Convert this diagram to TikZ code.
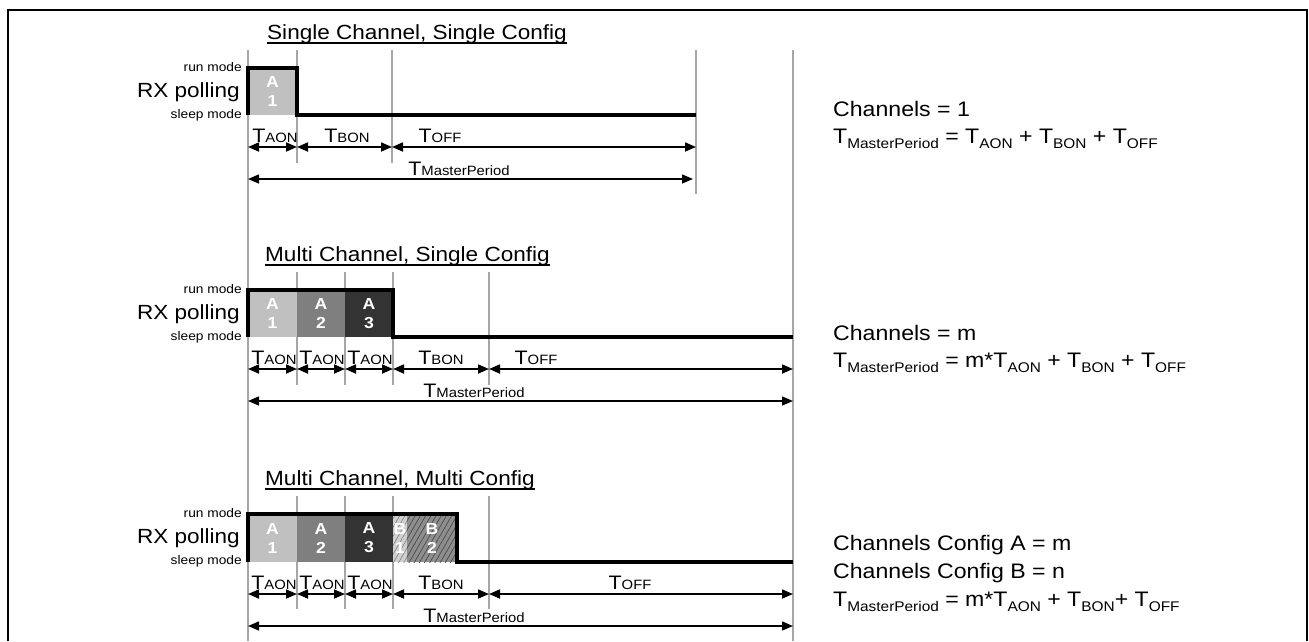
\documentclass[tikz,border=0pt]{standalone}
\usepackage{fontspec}
\setmainfont{Liberation Sans}[FakeStretch=1.1]
\usetikzlibrary{arrows.meta,patterns.meta}
\definecolor{gA}{HTML}{C0C0C0}
\definecolor{gB}{HTML}{7F7F7F}
\definecolor{gC}{HTML}{333333}
\definecolor{vl}{HTML}{A6A6A6}
\definecolor{hBa}{HTML}{D0D0D0}
\definecolor{hBb}{HTML}{8E8E8E}
\definecolor{hLa}{HTML}{8A8A8A}
\definecolor{hLb}{HTML}{4A4A4A}
\newcommand\tlab[2]{{\fontsize{19.5}{19.5}\selectfont #1}{\fontsize{13.5}{13.5}\selectfont #2}}
\newcommand\fsb[1]{\raisebox{-5.5pt}{\fontsize{14}{14}\selectfont #1}}
\newcommand\Tf[1]{T\fsb{#1}}
\begin{document}
\begin{tikzpicture}[x=1pt,y=-1pt,
  vline/.style={draw=vl,line width=1.4pt},
  sig/.style={line width=4.5pt,line join=miter},
  dim/.style={{Triangle[length=11pt,width=9pt]}-{Triangle[length=11pt,width=9pt]},line width=1.7pt},
  mdim/.style={dim,line width=1.4pt},
  blk/.style={text=white,font=\bfseries\fontsize{16}{19}\selectfont,align=center,inner sep=0},
  lab/.style={anchor=base,inner sep=0},
  ttl/.style={anchor=base west,inner sep=0,font=\fontsize{20.5}{24}\selectfont},
  side/.style={anchor=base east,inner sep=0,font=\fontsize{12.5}{14}\selectfont},
  rxp/.style={anchor=base east,inner sep=0,font=\fontsize{20.5}{24}\selectfont},
  rt/.style={anchor=base west,inner sep=0,font=\fontsize{21}{24}\selectfont},
  uline/.style={line width=1.3pt}]
\useasboundingbox (0,0) rectangle (1309,641);
\draw[line width=2pt] (8,641) -- (8,10) -- (1307,10) -- (1307,641);
% long vertical guides
\draw[vline] (248,50) -- (248,641);
\draw[vline] (793,50) -- (793,641);

% ===== Section 1 =====
\node[ttl] (t1) at (267,39) {Single Channel, Single Config};
\draw[uline] ([yshift=-4pt]t1.base west) -- ([yshift=-4pt]t1.base east);
\draw[vline] (297,50) -- (297,163);
\draw[vline] (392,50) -- (392,163);
\draw[vline] (696,50) -- (696,194);
\fill[gA] (248,68) rectangle (297,115);
\node[blk] (a11) at (272.5,91.5) {A\\1};
\draw[sig] (248,115) -- (248,68) -- (297,68) -- (297,115) -- (696,115);
\node[side] (rm1) at (242,71.5) {run mode};
\node[rxp] (rx1) at (240,97) {RX polling};
\node[side] (sm1) at (242,118.5) {sleep mode};
\foreach \n/\x in {a/248,b/297,c/392,d/696}{
  \coordinate (p1\n) at (\x,147);
  \coordinate (m1\n) at (\x,179);}
\coordinate (m1e) at (693,179);
\node[lab] (l1a) at (275,142) {\tlab{T}{AON}};
\node[lab] (l1b) at (347,142) {\tlab{T}{BON}};
\node[lab] (l1c) at (440,142) {\tlab{T}{OFF}};
\node[lab] (l1m) at (459,175.5) {\tlab{T}{MasterPeriod}};
\draw[dim] (p1a) -- (p1b);
\draw[dim] (p1b) -- (p1c);
\draw[dim] (p1c) -- (p1d);
\draw[mdim] (m1a) -- (m1e);

% ===== Section 2 =====
\begin{scope}[shift={(0,222)}]
\node[ttl] (t2) at (265,39) {Multi Channel, Single Config};
\draw[uline] ([yshift=-4pt]t2.base west) -- ([yshift=-4pt]t2.base east);
\foreach \x in {297,345,393,489} \draw[vline] (\x,50) -- (\x,163);
\fill[gA] (248,68) rectangle (297,115);
\fill[gB] (297,68) rectangle (345,115);
\fill[gC] (345,68) rectangle (393,115);
\node[blk] (a21) at (272.5,91.5) {A\\1};
\node[blk] (a22) at (321,91.5) {A\\2};
\node[blk] (a23) at (369,91.5) {A\\3};
\draw[sig] (248,115) -- (248,68) -- (393,68) -- (393,115) -- (793,115);
\node[side] (rm2) at (242,71.5) {run mode};
\node[rxp] (rx2) at (240,97) {RX polling};
\node[side] (sm2) at (242,118.5) {sleep mode};
\foreach \n/\x in {a/248,b/297,c/345,d/393,e/489,f/793}{
  \coordinate (p2\n) at (\x,147);
  \coordinate (m2\n) at (\x,179);}
\node[lab] (l2a) at (274,142) {\tlab{T}{AON}};
\node[lab] (l2b) at (322,142) {\tlab{T}{AON}};
\node[lab] (l2c) at (370,142) {\tlab{T}{AON}};
\node[lab] (l2d) at (441,142) {\tlab{T}{BON}};
\node[lab] (l2e) at (536,142) {\tlab{T}{OFF}};
\node[lab] (l2m) at (474,175.5) {\tlab{T}{MasterPeriod}};
\draw[dim] (p2a) -- (p2b);
\draw[dim] (p2b) -- (p2c);
\draw[dim] (p2c) -- (p2d);
\draw[dim] (p2d) -- (p2e);
\draw[dim] (p2e) -- (p2f);
\draw[mdim] (m2a) -- (m2f);
\end{scope}

% ===== Section 3 =====
\begin{scope}[shift={(0,446)}]
\node[ttl] (t3) at (265,39) {Multi Channel, Multi Config};
\draw[uline] ([yshift=-4pt]t3.base west) -- ([yshift=-4pt]t3.base east);
\foreach \x in {297,345,393,489} \draw[vline] (\x,50) -- (\x,163);
\fill[gA] (248,68) rectangle (297,116);
\fill[gB] (297,68) rectangle (345,116);
\fill[gC] (345,68) rectangle (393,116);
\fill[hBa] (393,68) rectangle (407,116);
\fill[pattern={Lines[angle=60,distance=4.5pt,line width=0.7pt]},pattern color=hLa] (393,68) rectangle (407,116);
\fill[hBb] (407,68) rectangle (457,116);
\fill[pattern={Lines[angle=60,distance=4.5pt,line width=0.7pt]},pattern color=hLb] (407,68) rectangle (457,116);
\node[blk] (a31) at (272.5,92) {A\\1};
\node[blk] (a32) at (321,92) {A\\2};
\node[blk] (a33) at (369,92) {A\\3};
\node[blk] (b31) at (400,92) {B\\1};
\node[blk] (b32) at (432,92) {B\\2};
\draw[sig] (248,116) -- (248,68) -- (457,68) -- (457,116) -- (793,116);
\node[side] (rm3) at (242,71.5) {run mode};
\node[rxp] (rx3) at (240,97) {RX polling};
\node[side] (sm3) at (242,118.5) {sleep mode};
\foreach \n/\x in {a/248,b/297,c/345,d/393,e/489,f/793}{
  \coordinate (p3\n) at (\x,148);
  \coordinate (m3\n) at (\x,180);}
\node[lab] (l3a) at (274,143) {\tlab{T}{AON}};
\node[lab] (l3b) at (322,143) {\tlab{T}{AON}};
\node[lab] (l3c) at (370,143) {\tlab{T}{AON}};
\node[lab] (l3d) at (441,143) {\tlab{T}{BON}};
\node[lab] (l3e) at (630,143) {\tlab{T}{OFF}};
\node[lab] (l3m) at (474,176.5) {\tlab{T}{MasterPeriod}};
\draw[dim] (p3a) -- (p3b);
\draw[dim] (p3b) -- (p3c);
\draw[dim] (p3c) -- (p3d);
\draw[dim] (p3d) -- (p3e);
\draw[dim] (p3e) -- (p3f);
\draw[mdim] (m3a) -- (m3f);
\end{scope}

% ===== Right-hand formulas =====
\node[rt] (f1a) at (833,116) {Channels = 1};
\node[rt] (f1b) at (833,143) {\Tf{MasterPeriod} = \Tf{AON} + \Tf{BON} + \Tf{OFF}};
\node[rt] (f2a) at (833,340) {Channels = m};
\node[rt] (f2b) at (833,367) {\Tf{MasterPeriod} = m*\Tf{AON} + \Tf{BON} + \Tf{OFF}};
\node[rt] (f3a) at (833,550) {Channels Config A = m};
\node[rt] (f3b) at (833,578) {Channels Config B = n};
\node[rt] (f3c) at (833,606) {\Tf{MasterPeriod} = m*\Tf{AON} + \Tf{BON}+ \Tf{OFF}};
\end{tikzpicture}
\end{document}
